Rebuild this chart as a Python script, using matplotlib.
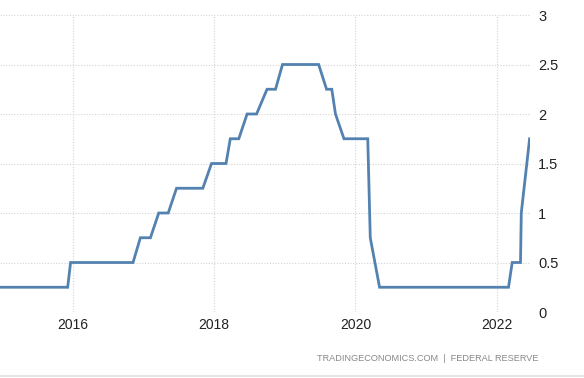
import matplotlib
matplotlib.use("Agg")
import matplotlib.pyplot as plt
import pandas as pd

# fed funds target rate (upper bound), vertices
dates = ["2014-12-20", "2015-12-05", "2015-12-20", "2016-11-07", "2016-12-15",
         "2017-02-05", "2017-03-20", "2017-05-08", "2017-06-20", "2017-11-03",
         "2017-12-18", "2018-03-03", "2018-03-25", "2018-05-08", "2018-06-20",
         "2018-08-08", "2018-10-01", "2018-11-14", "2018-12-20", "2019-06-25",
         "2019-08-05", "2019-09-01", "2019-09-20", "2019-11-03", "2020-03-05",
         "2020-03-18", "2020-05-05", "2022-03-03", "2022-03-22", "2022-05-04",
         "2022-05-08", "2022-06-20"]
rates = [0.25, 0.25, 0.50, 0.50, 0.75,
         0.75, 1.00, 1.00, 1.25, 1.25,
         1.50, 1.50, 1.75, 1.75, 2.00,
         2.00, 2.25, 2.25, 2.50, 2.50,
         2.25, 2.25, 2.00, 1.75, 1.75,
         0.75, 0.25, 0.25, 0.50, 0.50,
         1.00, 1.75]
y_ticks = [0, 0.5, 1, 1.5, 2, 2.5, 3]
y_labels = ["0", "0.5", "1", "1.5", "2", "2.5", "3"]
x_years = [2016, 2018, 2020, 2022]
source = "TRADINGECONOMICS.COM  |  FEDERAL RESERVE"

plt.rcParams["font.family"] = ["Liberation Sans Narrow", "Liberation Sans", "DejaVu Sans"]

x = pd.to_datetime(dates)

fig = plt.figure(figsize=(5.84, 3.78), dpi=100)
ax = fig.add_axes([0.0, 0.1746, 0.9075, 0.7857])

ax.plot(x, rates, color="#5382b0", linewidth=2.0, solid_joinstyle="miter")

ax.set_ylim(0, 3)
ax.set_xlim(pd.Timestamp("2014-12-20"), pd.Timestamp("2022-06-22"))
ax.set_yticks(y_ticks)
ax.set_yticklabels(y_labels)
ax.set_xticks([pd.Timestamp(f"{y}-01-01") for y in x_years])
ax.set_xticklabels([str(y) for y in x_years])

ax.yaxis.tick_right()
ax.tick_params(axis="y", length=0, pad=6, labelsize=10.5, labelcolor="#222222")
ax.tick_params(axis="x", length=0, pad=4, labelsize=10, labelcolor="#222222")

ax.grid(True, color="#d4d4d4", linestyle=(0, (1, 1.5)), linewidth=0.8)
ax.set_axisbelow(True)
for s in ax.spines.values():
    s.set_visible(False)

fig.text(0.922, 0.052, source, ha="right", va="center", fontsize=6.6, color="#888888")
fig.add_artist(plt.Line2D([0, 1], [0.004, 0.004], color="#e6e6e6", linewidth=1.5))

fig.savefig("out.png", dpi=100)
